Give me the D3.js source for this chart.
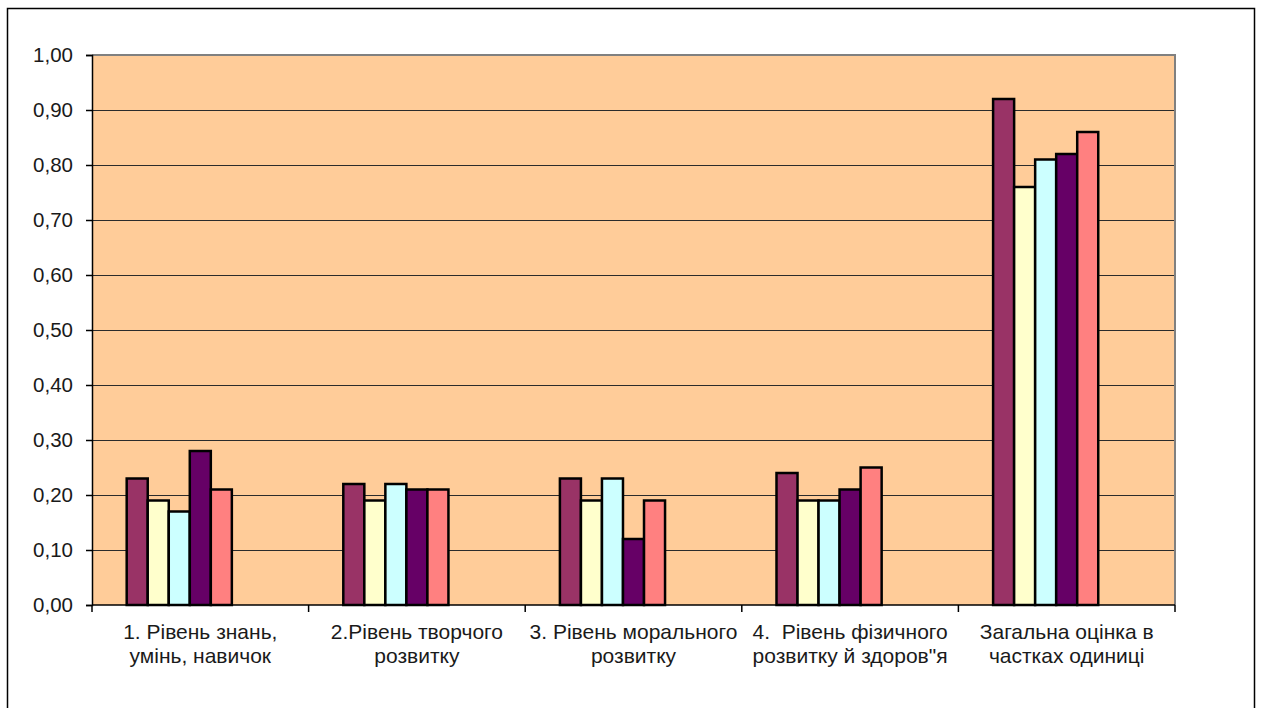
<!DOCTYPE html>
<html>
<head>
<meta charset="utf-8">
<script src="https://cdn.jsdelivr.net/npm/d3@7"></script>
<style>
  body { margin: 0; background: #fff; }
  svg { display: block; font-family: Arial, "Liberation Sans", sans-serif; }
</style>
</head>
<body>
<svg id="chart" width="1261" height="708"></svg>
<script>
// Category labels, already split onto two lines
const categoryLines = [
  ["1. Рівень знань,", "умінь, навичок"],
  ["2.Рівень творчого", "розвитку"],
  ["3. Рівень морального", "розвитку"],
  ["4.  Рівень фізичного", "розвитку й здоров\"я"],
  ["Загальна оцінка в", "частках одиниці"]
];
const categories = categoryLines.map(l => l.join(" "));

// Five series of values per category
const series1 = [0.23, 0.22, 0.23, 0.24, 0.92];
const series2 = [0.19, 0.19, 0.19, 0.19, 0.76];
const series3 = [0.17, 0.22, 0.23, 0.19, 0.81];
const series4 = [0.28, 0.21, 0.12, 0.21, 0.82];
const series5 = [0.21, 0.21, 0.19, 0.25, 0.86];
const allSeries = [series1, series2, series3, series4, series5];

const yTicks = [0, 0.1, 0.2, 0.3, 0.4, 0.5, 0.6, 0.7, 0.8, 0.9, 1.0];

const palette = ["#993366", "#FFFFCC", "#CCFFFF", "#660066", "#FF8080"];

const svg = d3.select("#chart");
const plot = { left: 92, right: 1175, top: 55, bottom: 605 };

// Outer frame
svg.append("rect")
  .attr("x", 7.5).attr("y", 8.5)
  .attr("width", 1247).attr("height", 740)
  .attr("fill", "#fff").attr("stroke", "#000").attr("stroke-width", 1.5);

const x = d3.scaleBand().domain(categories).range([plot.left, plot.right]).padding(0);
// Seven slots per category, the first five carry bars
const slot = d3.scaleBand().domain(d3.range(7)).range([0, x.bandwidth()])
  .paddingInner(0).paddingOuter(1.65);
const y = d3.scaleLinear().domain([0, 1]).range([plot.bottom, plot.top]);

// Plot background
svg.append("rect")
  .attr("x", plot.left).attr("y", plot.top)
  .attr("width", plot.right - plot.left).attr("height", plot.bottom - plot.top)
  .attr("fill", "#FFCC99");

// Horizontal gridlines
svg.append("g").selectAll("line")
  .data(yTicks.filter(t => t > 0 && t < 1))
  .join("line")
  .attr("x1", plot.left).attr("x2", plot.right)
  .attr("y1", d => Math.round(y(d)) + 0.5).attr("y2", d => Math.round(y(d)) + 0.5)
  .attr("stroke", "#2b2b2b").attr("stroke-width", 1.2);

// Plot border (top and right)
svg.append("path")
  .attr("d", `M${plot.left},${plot.top}H${plot.right}V${plot.bottom}`)
  .attr("fill", "none").attr("stroke", "#808080").attr("stroke-width", 2);

// Bars
const groups = svg.append("g").selectAll("g")
  .data(categories)
  .join("g")
  .attr("transform", d => `translate(${x(d)},0)`);

groups.selectAll("rect")
  .data((c, ci) => allSeries.map((s, si) => ({ si, v: s[ci] })))
  .join("rect")
  .attr("x", d => slot(d.si))
  .attr("width", slot.bandwidth())
  .attr("y", d => y(d.v))
  .attr("height", d => y(0) - y(d.v))
  .attr("fill", d => palette[d.si])
  .attr("stroke", "#000").attr("stroke-width", 2.5);

// Y axis
const fmt = d3.format(".2f");
const yAxis = svg.append("g")
  .attr("transform", `translate(${plot.left},0)`)
  .call(d3.axisLeft(y).tickValues(yTicks).tickSize(6).tickPadding(13)
    .tickFormat(d => fmt(d).replace(".", ",")));
yAxis.select(".domain").attr("stroke", "#000").attr("stroke-width", 1.5);
yAxis.selectAll(".tick line").attr("stroke", "#000").attr("stroke-width", 1.5);
yAxis.selectAll(".tick text")
  .attr("fill", "#1a1a1a").style("font-size", "20.5px")
  .style("font-family", "Arial, 'Liberation Sans', sans-serif");

// X axis line and category boundary ticks
svg.append("line")
  .attr("x1", plot.left).attr("x2", plot.right)
  .attr("y1", plot.bottom).attr("y2", plot.bottom)
  .attr("stroke", "#000").attr("stroke-width", 1.5);
const bounds = categories.map(c => x(c)).concat([x.range()[1]]);
svg.append("g").selectAll("line")
  .data(bounds)
  .join("line")
  .attr("x1", d => d).attr("x2", d => d)
  .attr("y1", plot.bottom).attr("y2", plot.bottom + 7)
  .attr("stroke", "#000").attr("stroke-width", 1.5);

// Category labels
const labels = svg.append("g").selectAll("text")
  .data(categoryLines)
  .join("text")
  .attr("text-anchor", "middle")
  .attr("fill", "#1a1a1a")
  .style("font-size", "21px")
  .style("white-space", "pre")
  .attr("x", (d, i) => x(categories[i]) + x.bandwidth() / 2);
labels.selectAll("tspan")
  .data(d => d)
  .join("tspan")
  .attr("x", function () { return d3.select(this.parentNode).attr("x"); })
  .attr("y", (d, i) => 639 + i * 24)
  .text(d => d);
</script>
</body>
</html>
